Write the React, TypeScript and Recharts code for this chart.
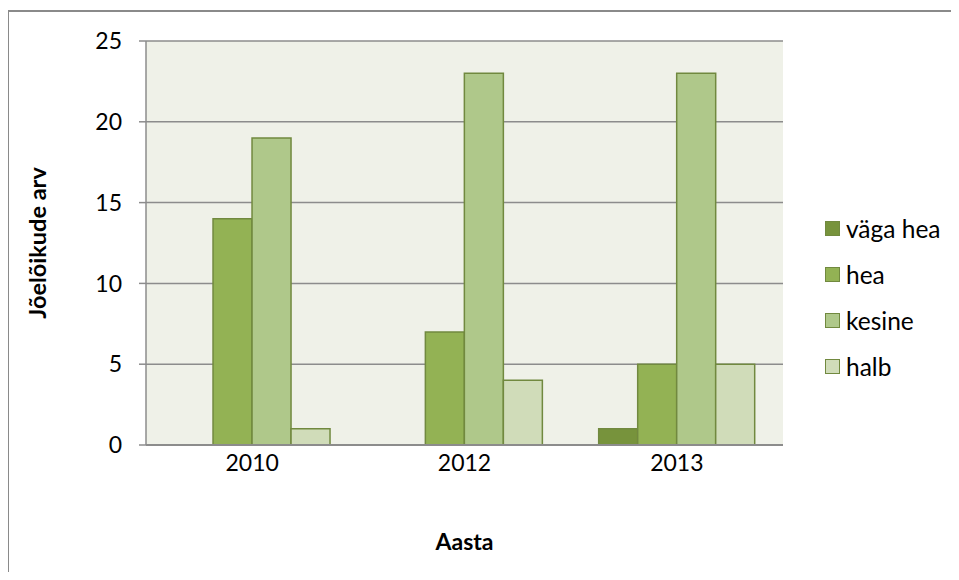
import React from "react";
import { BarChart, Bar, XAxis, YAxis, CartesianGrid } from "recharts";

const years = ["2010", "2012", "2013"];
const vagaHea = [0, 0, 1];
const hea = [14, 7, 5];
const kesine = [19, 23, 23];
const halb = [1, 4, 5];
const yTicks = [0, 5, 10, 15, 20, 25];

const seriesNames = ["väga hea", "hea", "kesine", "halb"];
const seriesKeys = ["vagaHea", "hea", "kesine", "halb"];
const colors = ["#77933C", "#93B254", "#AFC88A", "#D0DCB9"];
const edge = "#71893F";

const data = years.map((year, i) => ({
  year,
  vagaHea: vagaHea[i],
  hea: hea[i],
  kesine: kesine[i],
  halb: halb[i],
}));

const font = "Lato, Carlito, 'Liberation Sans', sans-serif";

export default function App() {
  return (
    <div style={{ position: "relative", width: 943, height: 564, overflow: "hidden", fontFamily: font }}>
      <div
        style={{
          position: "absolute",
          left: -1,
          top: 2,
          width: 1000,
          height: 700,
          borderLeft: "2px solid #8a8a8a",
          borderTop: "2px solid #8a8a8a",
        }}
      />
      <div style={{ position: "absolute", left: 0, top: 0 }}>
        <BarChart
          width={943}
          height={564}
          data={data}
          margin={{ top: 33, right: 168, bottom: 97, left: 78 }}
          barCategoryGap="13.2%"
          barGap={0}
        >
          <CartesianGrid vertical={false} fill="#EFF1E8" stroke="#8c8c8c" strokeWidth={1.5} />
          <XAxis
            dataKey="year"
            height={30}
            tickSize={0}
            tickMargin={10}
            axisLine={{ stroke: "#8c8c8c", strokeWidth: 2 }}
            tick={{ fill: "#000", fontSize: 23, fontFamily: font }}
            label={{ value: "Aasta", position: "center", dy: 82, fill: "#000", fontSize: 23, fontWeight: 700, fontFamily: font }}
          />
          <YAxis
            width={60}
            domain={[0, 25]}
            ticks={yTicks}
            tickSize={7}
            tickMargin={17}
            axisLine={{ stroke: "#8c8c8c", strokeWidth: 1.5 }}
            tickLine={{ stroke: "#8c8c8c", strokeWidth: 1.5 }}
            tick={{ fill: "#000", fontSize: 23, fontFamily: font }}
            label={{
              value: "Jõelõikude arv",
              angle: -90,
              position: "center",
              dx: -78,
              fill: "#000",
              fontSize: 23.5,
              fontWeight: 700,
              fontFamily: font,
            }}
          />
          {seriesKeys.map((k, i) => (
            <Bar
              key={k}
              dataKey={k}
              name={seriesNames[i]}
              fill={colors[i]}
              stroke={edge}
              strokeWidth={1.5}
              isAnimationActive={false}
            />
          ))}
        </BarChart>
      </div>
      <div style={{ position: "absolute", left: 817, top: 197 }}>
        {seriesNames.map((name, i) => (
          <div key={name} style={{ display: "flex", alignItems: "center", height: 46, fontSize: 24.5, color: "#000" }}>
            <span
              style={{
                display: "inline-block",
                width: 13,
                height: 13,
                background: colors[i],
                border: `1.5px solid ${edge}`,
                marginRight: 6,
              }}
            />
            {name}
          </div>
        ))}
      </div>
    </div>
  );
}
